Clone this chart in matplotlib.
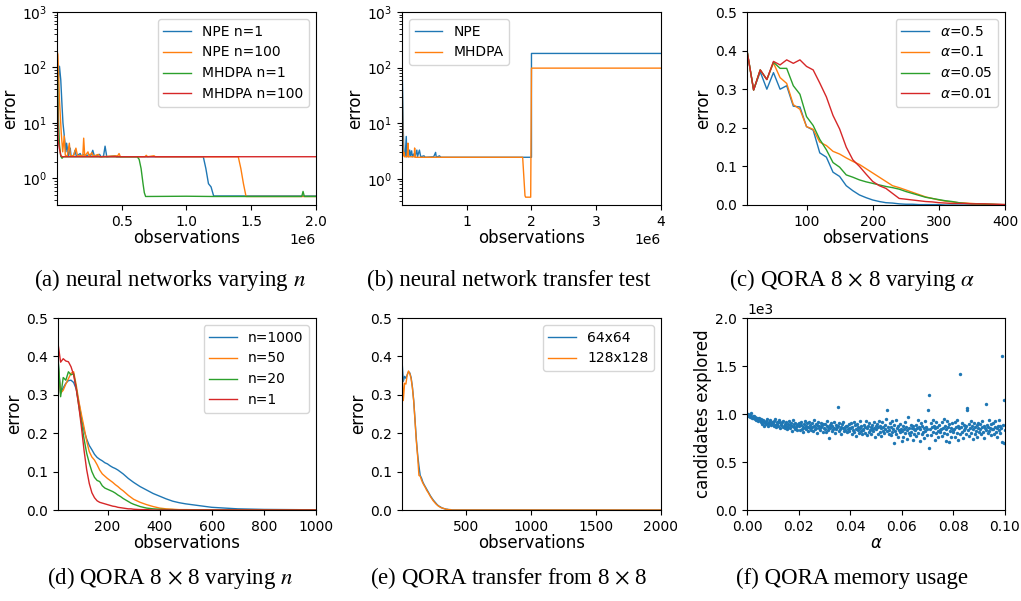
import matplotlib
matplotlib.use("Agg")
import matplotlib.pyplot as plt
import numpy as np

# (a) neural networks varying n -- curve vertices, x in units of 1e6 observations
a_npe1_x = [0.001, 0.02, 0.03, 0.04, 0.047, 0.06, 0.07, 0.075, 0.09, 0.103, 0.11, 0.13, 0.14, 0.15, 0.18, 0.19,
            0.21, 0.22, 0.25, 0.26, 0.277, 0.29, 0.33, 0.34, 0.36, 0.372, 0.385, 0.45, 0.46,
            1.13, 1.15, 1.17, 1.19, 1.21, 2.0]
a_npe1_y = [30, 105, 60, 20, 10, 5, 3.0, 4.3, 2.5, 3.5, 2.5, 2.6, 3.2, 2.5, 2.8, 2.5,
            2.7, 2.5, 2.7, 2.5, 3.2, 2.5, 2.7, 2.45, 2.5, 3.8, 2.45, 2.55, 2.45,
            2.45, 1.5, 0.8, 0.7, 0.48, 0.48]
a_npe100_x = [0.001, 0.008, 0.02, 0.034, 0.045, 0.057, 0.065, 0.08, 0.096, 0.105, 0.13, 0.147, 0.16, 0.18,
              0.2, 0.207, 0.215, 0.24, 0.25, 0.27, 0.28, 0.32, 0.33, 0.47, 0.48, 0.49,
              0.68, 0.69, 0.70, 0.75, 0.76, 1.40, 1.42, 1.44, 1.46, 2.0]
a_npe100_y = [200, 170, 26, 6.5, 3.0, 5.8, 2.6, 2.5, 4.3, 2.5, 2.6, 3.5, 2.5, 2.6,
              2.5, 5.3, 2.5, 3.0, 2.5, 2.9, 2.5, 2.7, 2.45, 2.55, 2.8, 2.45,
              2.45, 2.6, 2.45, 2.55, 2.45, 2.45, 1.5, 0.8, 0.47, 0.47]
a_mh1_x = [0.001, 0.005, 0.012, 0.02, 0.03, 0.04, 0.05, 0.62, 0.635, 0.65, 0.665, 0.675, 0.685,
           1.0, 1.2, 1.89, 1.90, 1.91, 2.0]
a_mh1_y = [200, 60, 12, 4, 2.5, 2.3, 2.45, 2.45, 2.2, 1.5, 0.8, 0.55, 0.47,
           0.475, 0.47, 0.47, 0.58, 0.47, 0.47]
a_mh100_x = [0.001, 0.005, 0.01, 0.018, 0.03, 0.04, 2.0]
a_mh100_y = [200, 30, 5, 3.6, 2.6, 2.45, 2.45]

# (b) neural network transfer test
b_npe_x = [0.001, 0.01, 0.02, 0.03, 0.05, 0.067, 0.075, 0.09, 0.1, 0.12, 0.13, 0.15, 0.16, 0.18, 0.2,
           0.23, 0.24, 0.27, 0.29, 0.34, 0.36, 0.49, 0.52, 0.53, 0.58, 0.6, 2.0, 2.0, 4.0]
b_npe_y = [150, 40, 8, 3, 2.6, 5.8, 2.5, 3.2, 2.5, 3.3, 2.6, 3.2, 2.5, 2.8, 2.5,
           3.3, 2.5, 3.3, 2.5, 2.6, 2.45, 2.5, 3.0, 2.45, 2.6, 2.45, 2.45, 180, 180]
b_mh_x = [0.001, 0.008, 0.015, 0.02, 0.03, 0.04, 0.08, 0.093, 0.1, 0.19, 0.196, 0.205,
          1.864, 1.88, 1.90, 1.91, 1.988, 2.0, 4.0]
b_mh_y = [200, 20, 3.5, 2.6, 3.0, 2.5, 2.5, 4.4, 2.5, 2.5, 3.6, 2.45,
          2.45, 1.2, 0.5, 0.47, 0.47, 98, 98]

# (c) QORA 8x8 varying alpha
c_obs = list(range(10, 401, 10))
c_a05 = [0.40, 0.298, 0.345, 0.30, 0.343, 0.30, 0.309, 0.256, 0.254, 0.203,
         0.194, 0.135, 0.124, 0.085, 0.074, 0.05, 0.037, 0.026, 0.019, 0.013,
         0.009, 0.006, 0.005, 0.003, 0.002, 0.002, 0.001, 0.001, 0.001, 0.001,
         0.0, 0.0, 0.0, 0.0, 0.0, 0.0, 0.0, 0.0, 0.0, 0.0]
c_a01 = [0.40, 0.298, 0.35, 0.325, 0.368, 0.33, 0.315, 0.26, 0.248, 0.203,
         0.196, 0.163, 0.154, 0.139, 0.132, 0.122, 0.113, 0.105, 0.094, 0.083,
         0.072, 0.061, 0.05, 0.045, 0.039, 0.033, 0.027, 0.021, 0.017, 0.013,
         0.010, 0.008, 0.006, 0.005, 0.004, 0.003, 0.002, 0.002, 0.001, 0.001]
c_a005 = [0.40, 0.298, 0.35, 0.325, 0.37, 0.354, 0.354, 0.309, 0.287, 0.229,
          0.206, 0.17, 0.143, 0.11, 0.098, 0.078, 0.072, 0.065, 0.06, 0.056,
          0.052, 0.048, 0.045, 0.041, 0.035, 0.03, 0.025, 0.02, 0.017, 0.014,
          0.011, 0.009, 0.006, 0.004, 0.003, 0.003, 0.002, 0.002, 0.001, 0.001]
c_a001 = [0.40, 0.298, 0.35, 0.325, 0.372, 0.363, 0.376, 0.367, 0.376, 0.359,
          0.35, 0.316, 0.28, 0.232, 0.197, 0.15, 0.117, 0.10, 0.08, 0.061,
          0.05, 0.043, 0.03, 0.017, 0.015, 0.013, 0.011, 0.009, 0.008, 0.006,
          0.005, 0.004, 0.004, 0.004, 0.003, 0.003, 0.003, 0.002, 0.002, 0.001]

# (d) QORA 8x8 varying n
d_obs = list(range(10, 301, 10)) + [325, 350, 375, 400, 425, 450, 475, 500, 600, 700, 800, 900, 1000]
d_n1000 = [0.39, 0.305, 0.318, 0.33, 0.337, 0.338, 0.332, 0.315, 0.28, 0.24,
           0.207, 0.185, 0.168, 0.157, 0.145, 0.137, 0.132, 0.128, 0.123, 0.12,
           0.115, 0.111, 0.108, 0.104, 0.099, 0.094, 0.088, 0.082, 0.077, 0.072,
           0.061, 0.052, 0.043, 0.036, 0.029, 0.023, 0.019, 0.016,
           0.007, 0.003, 0.0015, 0.001, 0.0005]
d_n50 = [0.38, 0.304, 0.312, 0.328, 0.342, 0.356, 0.36, 0.325, 0.283, 0.248,
         0.215, 0.18, 0.152, 0.138, 0.13, 0.118, 0.104, 0.094, 0.088, 0.082,
         0.077, 0.072, 0.066, 0.061, 0.055, 0.05, 0.044, 0.038, 0.033, 0.028,
         0.02, 0.014, 0.009, 0.005, 0.003, 0.002, 0.001, 0.001,
         0.0, 0.0, 0.0, 0.0, 0.0]
d_n20 = [0.40, 0.295, 0.345, 0.338, 0.36, 0.352, 0.355, 0.318, 0.27, 0.228,
         0.185, 0.148, 0.122, 0.1, 0.085, 0.077, 0.074, 0.063, 0.057, 0.054,
         0.051, 0.048, 0.044, 0.039, 0.035, 0.03, 0.026, 0.022, 0.018, 0.015,
         0.009, 0.005, 0.003, 0.002, 0.001, 0.001, 0.0, 0.0,
         0.0, 0.0, 0.0, 0.0, 0.0]
d_n1 = [0.434, 0.385, 0.394, 0.388, 0.386, 0.373, 0.352, 0.315, 0.27, 0.215,
        0.155, 0.105, 0.069, 0.045, 0.032, 0.024, 0.02, 0.018, 0.016, 0.014,
        0.012, 0.01, 0.009, 0.007, 0.006, 0.005, 0.004, 0.003, 0.003, 0.002,
        0.001, 0.001, 0.0, 0.0, 0.0, 0.0, 0.0, 0.0,
        0.0, 0.0, 0.0, 0.0, 0.0]

# (e) QORA transfer from 8x8
e_obs = list(range(10, 401, 10)) + [500, 1000, 1500, 2000]
e_64 = [0.39, 0.335, 0.348, 0.343, 0.352, 0.36, 0.357, 0.345, 0.32, 0.285,
        0.235, 0.185, 0.145, 0.115, 0.09, 0.083, 0.073, 0.066, 0.06, 0.054,
        0.048, 0.042, 0.036, 0.031, 0.026, 0.022, 0.018, 0.014, 0.011, 0.009,
        0.007, 0.005, 0.004, 0.003, 0.002, 0.002, 0.001, 0.001, 0.0, 0.0,
        0.0, 0.0, 0.0, 0.0]
e_128 = [0.37, 0.285, 0.33, 0.328, 0.352, 0.362, 0.355, 0.342, 0.318, 0.283,
         0.232, 0.18, 0.14, 0.09, 0.088, 0.078, 0.07, 0.064, 0.058, 0.051,
         0.046, 0.04, 0.034, 0.029, 0.024, 0.02, 0.016, 0.013, 0.01, 0.008,
         0.006, 0.005, 0.004, 0.003, 0.002, 0.001, 0.001, 0.001, 0.0, 0.0,
         0.0, 0.0, 0.0, 0.0]

# (f) QORA memory usage: candidates explored, alpha swept from 0 to 0.1
f_candidates = [
    995, 1002, 978, 990, 968, 985, 1010, 972, 960, 981, 958, 975, 949, 968, 940, 962, 952, 930, 958, 944,
    935, 912, 950, 899, 926, 941, 880, 918, 903, 930, 892, 944, 910, 874, 921, 898, 935, 887, 912, 901,
    905, 870, 932, 889, 950, 862, 915, 896, 878, 921, 940, 855, 898, 884, 912, 866, 930, 877, 895, 850,
    880, 915, 842, 898, 865, 930, 852, 887, 905, 820, 874, 938, 861, 893, 845, 910, 869, 882, 832, 901,
    872, 905, 830, 889, 920, 848, 866, 810, 895, 858, 931, 840, 878, 902, 825, 861, 915, 852, 884, 838,
    865, 910, 820, 877, 935, 842, 893, 858, 805, 884, 921, 849, 870, 830, 903, 861, 888, 815, 896, 852,
    848, 895, 812, 870, 925, 835, 862, 745, 889, 851, 906, 823, 877, 840, 912, 858, 800, 883, 846, 869,
    1070, 880, 825, 905, 842, 868, 790, 892, 850, 915, 818, 862, 835, 880, 808, 873, 840, 898, 826, 857,
    852, 905, 790, 866, 830, 918, 812, 884, 845, 770, 898, 838, 861, 805, 927, 850, 820, 876, 795, 842,
    838, 890, 802, 861, 925, 778, 850, 875, 815, 905, 832, 868, 790, 884, 847, 820, 912, 856, 765, 873,
    845, 898, 790, 862, 930, 812, 876, 770, 853, 915, 825, 868, 800, 887, 840, 945, 818, 1040, 860, 795,
    835, 905, 780, 862, 928, 810, 848, 700, 881, 820, 940, 795, 856, 873, 765, 830, 898, 812, 845, 720,
    828, 880, 760, 845, 912, 798, 865, 742, 833, 970, 805, 858, 780, 890, 815, 850, 725, 872, 840, 795,
    832, 890, 770, 855, 935, 805, 868, 720, 845, 905, 790, 878, 812, 850, 748, 925, 828, 862, 785, 840,
    1045, 1200, 650, 845, 905, 780, 860, 942, 812, 875, 730, 850, 920, 798, 868, 825, 760, 890, 835, 808,
    840, 912, 770, 858, 950, 805, 880, 720, 845, 928, 790, 866, 705, 895, 822, 850, 760, 905, 830, 812,
    842, 915, 765, 860, 940, 802, 878, 725, 850, 1420, 790, 868, 908, 815, 745, 885, 830, 855, 795, 872,
    1060, 1040, 835, 892, 770, 858, 930, 805, 870, 740, 845, 910, 795, 866, 820, 885, 760, 850, 905, 812,
    848, 900, 790, 862, 925, 812, 875, 755, 850, 1100, 830, 885, 805, 868, 940, 822, 858, 778, 892, 840,
    845, 905, 792, 866, 930, 815, 858, 760, 880, 942, 830, 872, 800, 855, 710, 1600, 890, 1145, 700, 835,
]
f_alpha = np.linspace(0.0, 0.1, len(f_candidates))

captions = [
    r"(a) neural networks varying $n$",
    r"(b) neural network transfer test",
    r"(c) QORA 8 $\times$ 8 varying $\alpha$",
    r"(d) QORA 8 $\times$ 8 varying $n$",
    r"(e) QORA transfer from 8 $\times$ 8",
    r"(f) QORA memory usage",
]

W, H = 1021, 601
plt.rcParams['font.size'] = 10
plt.rcParams['axes.labelsize'] = 12
plt.rcParams['legend.fontsize'] = 10
plt.rcParams['lines.linewidth'] = 1.0

fig = plt.figure(figsize=(W / 100, H / 100), dpi=100)


def add_ax(left, top, right, bottom):
    # pixel box -> figure fraction
    return fig.add_axes([left / W, 1 - bottom / H, (right - left) / W, (bottom - top) / H])


# top row
ax = add_ax(57, 12, 316, 205)
ax.plot(np.array(a_npe1_x) * 1e6, a_npe1_y, label="NPE n=1")
ax.plot(np.array(a_npe100_x) * 1e6, a_npe100_y, label="NPE n=100")
ax.plot(np.array(a_mh1_x) * 1e6, a_mh1_y, label="MHDPA n=1")
ax.plot(np.array(a_mh100_x) * 1e6, a_mh100_y, label="MHDPA n=100")
ax.set_yscale("log")
ax.set_xlim(1000, 2e6)
ax.set_ylim(0.33, 1000)
ax.set_xlabel("observations", labelpad=0)
ax.set_ylabel("error", labelpad=2)
ax.legend(loc="upper right")

ax = add_ax(402, 12, 661, 205)
ax.plot(np.array(b_npe_x) * 1e6, b_npe_y, label="NPE")
ax.plot(np.array(b_mh_x) * 1e6, b_mh_y, label="MHDPA")
ax.set_yscale("log")
ax.set_xlim(1000, 4e6)
ax.set_ylim(0.34, 1000)
ax.set_xlabel("observations", labelpad=0)
ax.set_ylabel("error", labelpad=2)
ax.legend(loc="upper left")

ax = add_ax(747, 12, 1005, 205)
ax.plot(c_obs, c_a05, label=r"$\alpha$=0.5")
ax.plot(c_obs, c_a01, label=r"$\alpha$=0.1")
ax.plot(c_obs, c_a005, label=r"$\alpha$=0.05")
ax.plot(c_obs, c_a001, label=r"$\alpha$=0.01")
ax.set_xlim(10, 400)
ax.set_ylim(0, 0.5)
ax.set_xlabel("observations", labelpad=0)
ax.set_ylabel("error", labelpad=2)
ax.legend(loc="upper right")

# bottom row
ax = add_ax(58, 318, 316, 510)
ax.plot(d_obs, d_n1000, label="n=1000")
ax.plot(d_obs, d_n50, label="n=50")
ax.plot(d_obs, d_n20, label="n=20")
ax.plot(d_obs, d_n1, label="n=1")
ax.set_xlim(10, 1000)
ax.set_ylim(0, 0.5)
ax.set_xlabel("observations", labelpad=0)
ax.set_ylabel("error", labelpad=2)
ax.legend(loc="upper right")

ax = add_ax(402, 318, 661, 510)
ax.plot(e_obs, e_64, label="64x64")
ax.plot(e_obs, e_128, label="128x128")
ax.set_xlim(10, 2000)
ax.set_ylim(0, 0.5)
ax.set_xlabel("observations", labelpad=0)
ax.set_ylabel("error", labelpad=2)
ax.legend(loc="upper right")

ax = add_ax(747, 318, 1005, 510)
ax.scatter(f_alpha, f_candidates, s=6, linewidths=0)
ax.set_xlim(0, 0.1)
ax.set_ylim(0, 2000)
ax.ticklabel_format(axis="y", style="sci", scilimits=(3, 3))
ax.set_xlabel(r"$\alpha$", labelpad=0)
ax.set_ylabel("candidates explored", labelpad=2)

# sub-figure captions
cap_x = [170, 509, 852]
cap_y = [280, 578]
for i, txt in enumerate(captions):
    fig.text(cap_x[i % 3] / W, 1 - cap_y[i // 3] / H, txt, ha="center", va="center",
             fontsize=16.5, family="Liberation Serif", math_fontfamily="stix")

plt.savefig("out.png", dpi=100)
